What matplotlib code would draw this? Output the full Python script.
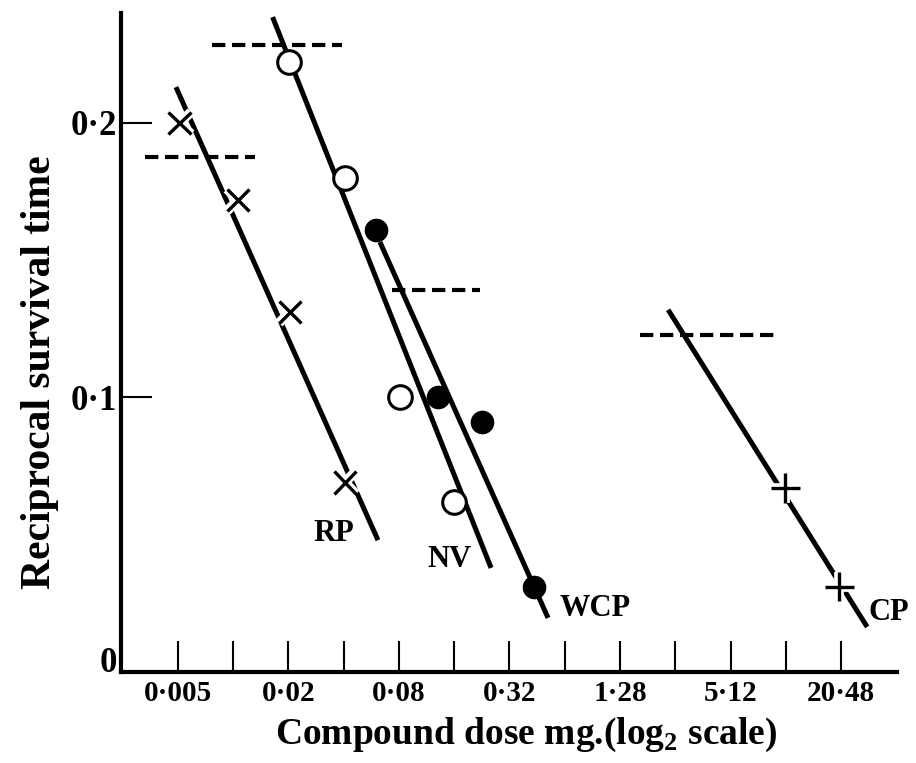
import matplotlib
matplotlib.use('Agg')
import matplotlib.pyplot as plt
import matplotlib.patheffects as pe

plt.rcParams['font.family'] = ['Liberation Serif', 'DejaVu Serif']
plt.rcParams['font.weight'] = 'bold'
plt.rcParams['mathtext.fontset'] = 'custom'
plt.rcParams['mathtext.rm'] = 'Liberation Serif:bold'
plt.rcParams['mathtext.bf'] = 'Liberation Serif:bold'

# dose in mg, value = reciprocal survival time
rp_dose = [0.0051, 0.0106, 0.0204, 0.0406]
rp_val = [0.200, 0.172, 0.131, 0.069]
nv_dose = [0.0201, 0.0406, 0.081, 0.160]
nv_val = [0.222, 0.180, 0.100, 0.062]
wcp_dose = [0.060, 0.130, 0.228, 0.435]
wcp_val = [0.161, 0.100, 0.091, 0.031]
cp_dose = [10.16, 19.98]
cp_val = [0.067, 0.031]

# fitted lines (end points)
rp_fit_dose = [0.00488, 0.0615]
rp_fit_val = [0.213, 0.048]
nv_fit_dose = [0.0164, 0.254]
nv_fit_val = [0.2385, 0.0379]
wcp_fit_dose = [0.063, 0.519]
wcp_fit_val = [0.1566, 0.0197]
cp_fit_dose = [2.34, 28.4]
cp_fit_val = [0.1319, 0.0164]

# dashed levels
rp_lev_dose = [0.0033, 0.0131]
rp_lev = 0.1876
nv_lev_dose = [0.00763, 0.039]
nv_lev = 0.2284
wcp_lev_dose = [0.0733, 0.221]
wcp_lev = 0.1392
cp_lev_dose = [1.645, 9.18]
cp_lev = 0.1228

x_ticks = [0.005, 0.01, 0.02, 0.04, 0.08, 0.16, 0.32, 0.64, 1.28, 2.56, 5.12, 10.24, 20.48]
x_labels = ['0\u00b7005', '', '0\u00b702', '', '0\u00b708', '', '0\u00b732', '',
            '1\u00b728', '', '5\u00b712', '', '20\u00b748']
y_ticks = [0, 0.1, 0.2]
y_labels = ['0', '0\u00b71', '0\u00b72']

fig = plt.figure(figsize=(9.16, 7.63), dpi=100)
ax = fig.add_axes([0.1321, 0.1193, 0.8472, 0.8637])
ax.set_xscale('log', base=2)

lw = 3.6
dash = dict(color='k', lw=3, dashes=(3.2, 1.6), solid_capstyle='butt')
ax.plot(rp_lev_dose, [rp_lev, rp_lev], **dash)
ax.plot(nv_lev_dose, [nv_lev, nv_lev], **dash)
ax.plot(wcp_lev_dose, [wcp_lev, wcp_lev], **dash)
ax.plot(cp_lev_dose, [cp_lev, cp_lev], **dash)

ax.plot(rp_fit_dose, rp_fit_val, color='k', lw=lw, solid_capstyle='butt')
ax.plot(nv_fit_dose, nv_fit_val, color='k', lw=lw, solid_capstyle='butt')
ax.plot(wcp_fit_dose, wcp_fit_val, color='k', lw=lw, solid_capstyle='butt')
ax.plot(cp_fit_dose, cp_fit_val, color='k', lw=lw, solid_capstyle='butt')

halo = [pe.withStroke(linewidth=7, foreground='white')]
ax.plot(rp_dose, rp_val, ls='none', marker='x', ms=16, mew=2.4, color='k', path_effects=halo)
ax.plot(cp_dose, cp_val, ls='none', marker='+', ms=21, mew=2.4, color='k', path_effects=halo)
ax.plot(nv_dose, nv_val, ls='none', marker='o', ms=17, mew=2.2, mfc='white', mec='k')
ax.plot(wcp_dose, wcp_val, ls='none', marker='o', ms=16, mew=1, mfc='k', mec='k')

lab = dict(fontsize=22, fontweight='bold', ha='left', va='center')
ax.text(0.0272, 0.0503, 'RP', **lab)
ax.text(0.1137, 0.0408, 'NV', **lab)
ax.text(0.603, 0.023, 'WCP', **lab)
ax.text(28.7, 0.0215, 'CP', **lab)

ax.set_xlim(0.00245, 41.3)
ax.set_ylim(0, 0.240)
ax.set_xticks(x_ticks)
ax.set_xticklabels(x_labels)
ax.minorticks_off()
ax.set_yticks(y_ticks)
ax.set_yticklabels(y_labels)
ax.tick_params(axis='x', direction='in', length=22, width=1.5, pad=6, labelsize=21)
ax.tick_params(axis='y', direction='in', length=22, width=1.5, pad=3, labelsize=25)
# the zero label sits on the axis line
ax.get_yticklabels()[0].set_va('baseline')

for s in ['top', 'right']:
    ax.spines[s].set_visible(False)
for s in ['left', 'bottom']:
    ax.spines[s].set_linewidth(3)

fig.text(526 / 916, 1 - 735 / 763, 'Compound dose mg.(log$_{\\mathbf{2}}$ scale)',
         fontsize=27, fontweight='bold', ha='center', va='center')
fig.text(40 / 916, 1 - 372 / 763, 'Reciprocal survival time', rotation=90,
         fontsize=30, fontweight='bold', ha='center', va='center')

fig.savefig('out.png', dpi=100)
